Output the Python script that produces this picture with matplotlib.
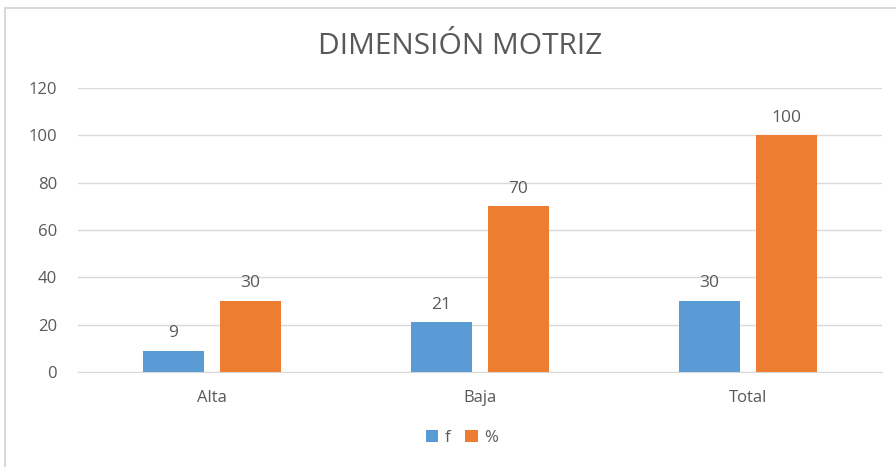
import matplotlib
matplotlib.use('Agg')
import matplotlib.pyplot as plt
import numpy as np
from matplotlib.patches import Rectangle

categories = ['Alta', 'Baja', 'Total']
f_values = [9, 21, 30]
pct_values = [30, 70, 100]
series_names = ['f', '%']
y_ticks = [0, 20, 40, 60, 80, 100, 120]

BLUE = '#5B9BD5'
ORANGE = '#ED7D31'
TEXT = '#595959'
GRID = '#D9D9D9'

plt.rcParams['font.family'] = ['Open Sans', 'DejaVu Sans']

fig = plt.figure(figsize=(8.96, 4.67), dpi=100)
# outer chart border (only top and left are visible in the crop)
fig.patches.append(Rectangle((5 / 896, -0.1), 1.2, 1 - 8 / 467 + 0.1,
                             transform=fig.transFigure, fill=False,
                             edgecolor=GRID, linewidth=1.5))

ax = fig.add_axes([78 / 896, 1 - 372 / 467, 804 / 896, 284 / 467])
x = np.arange(len(categories))
width = 0.224
offset = 0.1437
b1 = ax.bar(x - offset, f_values, width, color=BLUE, label=series_names[0], zorder=3)
b2 = ax.bar(x + offset, pct_values, width, color=ORANGE, label=series_names[1], zorder=3)

for bars in (b1, b2):
    for rect in bars:
        h = rect.get_height()
        ax.annotate(f'{h:g}', (rect.get_x() + rect.get_width() / 2, h),
                    xytext=(0, 7), textcoords='offset points',
                    ha='center', va='bottom', fontsize=12.5, color=TEXT)

ax.set_xlim(-0.5, len(categories) - 0.5)
ax.set_ylim(0, 120)
ax.set_yticks(y_ticks)
ax.set_xticks(x)
ax.set_xticklabels(categories)
ax.tick_params(axis='both', length=0, labelsize=12, labelcolor=TEXT)
ax.tick_params(axis='y', pad=15)
ax.tick_params(axis='x', pad=13)
ax.yaxis.grid(True, color=GRID, linewidth=1, zorder=0)
for s in ['top', 'right', 'left']:
    ax.spines[s].set_visible(False)
ax.spines['bottom'].set_color(GRID)

fig.text(460 / 896, 1 - 46 / 467, 'DIMENSIÓN MOTRIZ', ha='center', va='center',
         fontsize=21.5, color=TEXT)

fig.legend(loc='center', bbox_to_anchor=(462 / 896, 1 - 438 / 467), ncol=2,
           frameon=False, fontsize=12, labelcolor=TEXT, handlelength=0.75,
           handleheight=0.75, handletextpad=0.4, columnspacing=0.9)

fig.savefig('out.png', dpi=100)
